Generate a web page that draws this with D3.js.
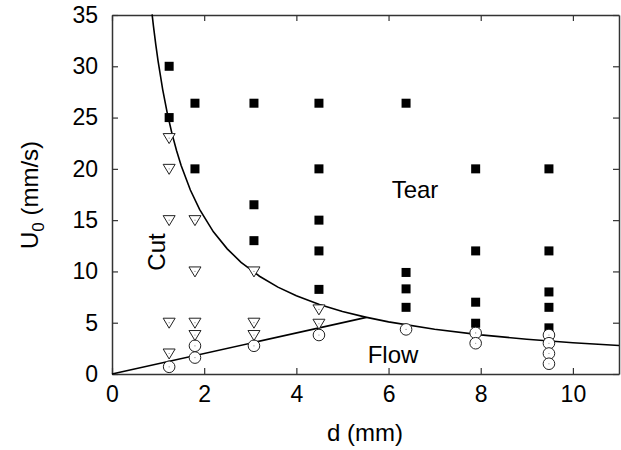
<!DOCTYPE html>
<html>
<head>
<meta charset="utf-8">
<script src="https://cdn.jsdelivr.net/npm/d3@7"></script>
<style>
  body { margin: 0; background: #fff; }
  svg text { font-family: "Liberation Sans", Arial, Helvetica, sans-serif; }
</style>
</head>
<body>
<div id="chart-area"></div>
<script>
// tear (filled squares), cut (down triangles), flow (open circles): [d, U0]
var tear = [
  [1.24, 30], [1.24, 25],
  [1.8, 26.4], [1.8, 20],
  [3.08, 26.4], [3.08, 16.5], [3.08, 13],
  [4.49, 26.4], [4.49, 20], [4.49, 15], [4.49, 12], [4.49, 8.25],
  [6.38, 26.4], [6.38, 9.9], [6.38, 8.3], [6.38, 6.5],
  [7.89, 20], [7.89, 12], [7.89, 7], [7.89, 4.95],
  [9.48, 20], [9.48, 12], [9.48, 8], [9.48, 6.5], [9.48, 4.5]
];
var cut = [
  [1.24, 23], [1.24, 20], [1.24, 15], [1.24, 5], [1.24, 2],
  [1.8, 15], [1.8, 10], [1.8, 5], [1.8, 3.8],
  [3.08, 10], [3.08, 5], [3.08, 3.8],
  [4.49, 6.3], [4.49, 4.9]
];
var flow = [
  [1.24, 0.7],
  [1.8, 2.75], [1.8, 1.6],
  [3.08, 2.75],
  [4.49, 3.8],
  [6.38, 4.35],
  [7.89, 4.0], [7.89, 3.0],
  [9.48, 3.8], [9.48, 3.0], [9.48, 2.0], [9.48, 1.0]
];
// boundary curves: U = C/d (cut/tear) and U = d (flow)
var hyperC = 30.5;
var hyperD = [0.87, 0.9, 0.95, 1, 1.1, 1.2, 1.3, 1.4, 1.5, 1.7, 1.9, 2.2, 2.5, 2.8, 3.2, 3.6, 4, 4.5, 5, 5.5, 6, 7, 8, 9, 10, 11];
var flowLineD = [0, 5.52];
var xTicks = [0, 2, 4, 6, 8, 10];
var yTicks = [0, 5, 10, 15, 20, 25, 30, 35];

var margin = { top: 15, right: 2, bottom: 76, left: 112 };

var svg = d3.select("#chart-area").append("svg")
    .attr("width", 621)
    .attr("height", 450);
var g = svg.append("g")
    .attr("transform", "translate(" + margin.left + "," + margin.top + ")");

var x = d3.scaleLinear().domain([0, 11]).range([0, 507]);
var y = d3.scaleLinear().domain([0, 35]).range([359, 0]);

// axes with inward ticks on all four sides
g.append("g").attr("transform", "translate(0," + y(0) + ")")
    .call(d3.axisBottom(x).tickValues(xTicks).tickSizeInner(-6).tickSizeOuter(0).tickPadding(12));
g.append("g")
    .call(d3.axisLeft(y).tickValues(yTicks).tickSizeInner(-6).tickSizeOuter(0).tickPadding(14));
g.append("g")
    .call(d3.axisTop(x).tickValues(xTicks).tickSizeInner(-6).tickSizeOuter(0).tickFormat(""));
g.append("g").attr("transform", "translate(" + x(11) + ",0)")
    .call(d3.axisRight(y).tickValues(yTicks).tickSizeInner(-6).tickSizeOuter(0).tickFormat(""));

g.selectAll(".domain").attr("stroke", "#333").attr("stroke-width", 1.5);
g.selectAll(".tick line").attr("stroke", "#333").attr("stroke-width", 1.2);
g.selectAll(".tick text").attr("font-size", "23px").attr("fill", "#000")
    .style("font-family", "'Liberation Sans', Arial, sans-serif");

// curves
var line = d3.line().x(function(d) { return x(d[0]); }).y(function(d) { return y(d[1]); });
g.append("path")
    .attr("fill", "none").attr("stroke", "#000").attr("stroke-width", 1.6)
    .attr("d", line(hyperD.map(function(d) { return [d, hyperC / d]; })));
g.append("path")
    .attr("fill", "none").attr("stroke", "#000").attr("stroke-width", 1.6)
    .attr("d", line(flowLineD.map(function(d) { return [d, d]; })));

// markers
g.selectAll(".tear").data(tear).enter().append("rect")
    .attr("class", "tear")
    .attr("x", function(d) { return x(d[0]) - 4.5; })
    .attr("y", function(d) { return y(d[1]) - 4.5; })
    .attr("width", 9).attr("height", 9)
    .attr("fill", "#000");

g.selectAll(".flow").data(flow).enter().append("circle")
    .attr("class", "flow")
    .attr("cx", function(d) { return x(d[0]); })
    .attr("cy", function(d) { return y(d[1]); })
    .attr("r", 5.8)
    .attr("fill", "#fff").attr("stroke", "#222").attr("stroke-width", 1);

g.selectAll(".cut").data(cut).enter().append("path")
    .attr("class", "cut")
    .attr("transform", function(d) { return "translate(" + x(d[0]) + "," + y(d[1]) + ")"; })
    .attr("d", "M-6,-4.5L6,-4.5L0,5.5Z")
    .attr("fill", "#fff").attr("stroke", "#222").attr("stroke-width", 1);

// tiny centre dots on open markers
g.selectAll(".dot").data(flow.concat(cut)).enter().append("circle")
    .attr("class", "dot")
    .attr("cx", function(d) { return x(d[0]); })
    .attr("cy", function(d) { return y(d[1]); })
    .attr("r", 0.6)
    .attr("fill", "#888");

// region labels
g.append("text").attr("x", 415 - margin.left).attr("y", 198 - margin.top)
    .attr("text-anchor", "middle").attr("font-size", "24px").text("Tear");
g.append("text").attr("x", 393 - margin.left).attr("y", 363 - margin.top)
    .attr("text-anchor", "middle").attr("font-size", "24px").text("Flow");
g.append("text")
    .attr("transform", "translate(" + (165 - margin.left) + "," + (252 - margin.top) + ") rotate(-90)")
    .attr("text-anchor", "middle").attr("font-size", "24px").text("Cut");

// axis titles
svg.append("text").attr("x", 365).attr("y", 441)
    .attr("text-anchor", "middle").attr("font-size", "24px").text("d (mm)");
var yl = svg.append("text")
    .attr("transform", "translate(38,195) rotate(-90)")
    .attr("text-anchor", "middle").attr("font-size", "24px");
yl.append("tspan").text("U");
yl.append("tspan").attr("font-size", "17px").attr("dy", 6).text("0");
yl.append("tspan").attr("dy", -6).text(" (mm/s)");
</script>
</body>
</html>
